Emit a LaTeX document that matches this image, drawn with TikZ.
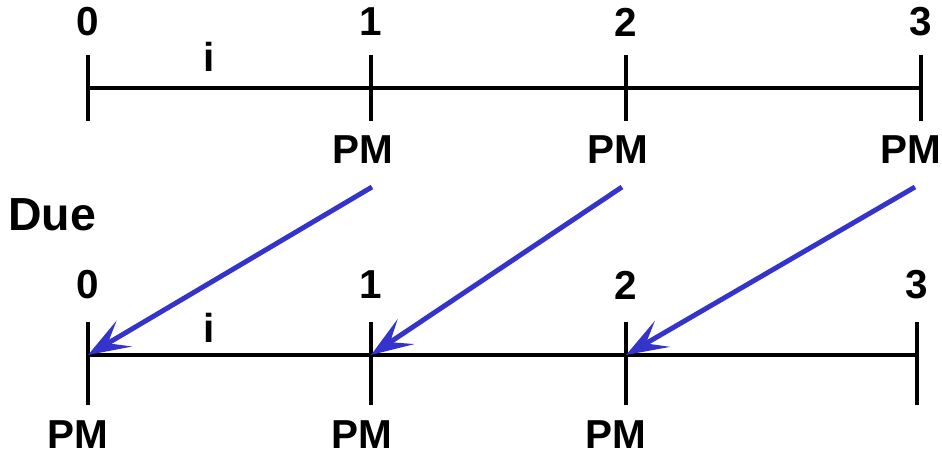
\documentclass[tikz,border=0pt]{standalone}
\usepackage{fontspec}
\setmainfont{Liberation Sans}
\usetikzlibrary{arrows.meta, calc}
\definecolor{pmblue}{RGB}{52,52,204}

\begin{document}
\begin{tikzpicture}[x=0.01cm, y=-0.01cm,
  font=\fontsize{11.5}{13}\selectfont\bfseries,
  axis/.style={line width=1.15pt},
  tick/.style={line width=1.15pt},
  moveback/.style={pmblue, line width=1.4pt, -{Stealth[length=4.2mm, width=3mm, inset=1.9mm]}}]
\useasboundingbox (0,0) rectangle (942,454);
% upper line: payments at end of period
\coordinate (a0) at (88,88);
\coordinate (a1) at (371,88);
\coordinate (a2) at (626,88);
\coordinate (a3) at (921,88);
\draw[axis] (a0) -- (a3);
\foreach \k in {0,...,3}
  \draw[tick] ($(a\k)+(0,-33)$) -- ($(a\k)+(0,33)$);
\node (n0) at (88,22) {0};
\node (n1) at (371,22) {1};
\node (n2) at (626,22) {2};
\node (n3) at (921,22) {3};
\node (ia) at (209,57) {i};
\node (pa1) at (363,150) {PM};
\node (pa2) at (618,150) {PM};
\node (pa3) at (911,150) {PM};
\node[font=\fontsize{13.2}{15}\selectfont\bfseries] (due) at (52,215) {Due};
% lower line: payments at start of period
\coordinate (b0) at (88,355);
\coordinate (b1) at (371,355);
\coordinate (b2) at (626,355);
\coordinate (b3) at (917,355);
\draw[axis] (b0) -- (b3);
\foreach \k in {0,...,3}
  \draw[tick] ($(b\k)+(0,-33)$) -- ($(b\k)+(0,50)$);
\node (m0) at (88,285) {0};
\node (m1) at (371,285) {1};
\node (m2) at (626,285) {2};
\node (m3) at (917,285) {3};
\node (ib) at (209,328) {i};
\node (pb0) at (78,435) {PM};
\node (pb1) at (362,435) {PM};
\node (pb2) at (616,435) {PM};
% moved one period back
\coordinate (s1) at (372,187);
\coordinate (s2) at (622,187);
\coordinate (s3) at (915,187);
\draw[moveback] (s1) -- (b0);
\draw[moveback] (s2) -- (b1);
\draw[moveback] (s3) -- (b2);
\end{tikzpicture}
\end{document}
